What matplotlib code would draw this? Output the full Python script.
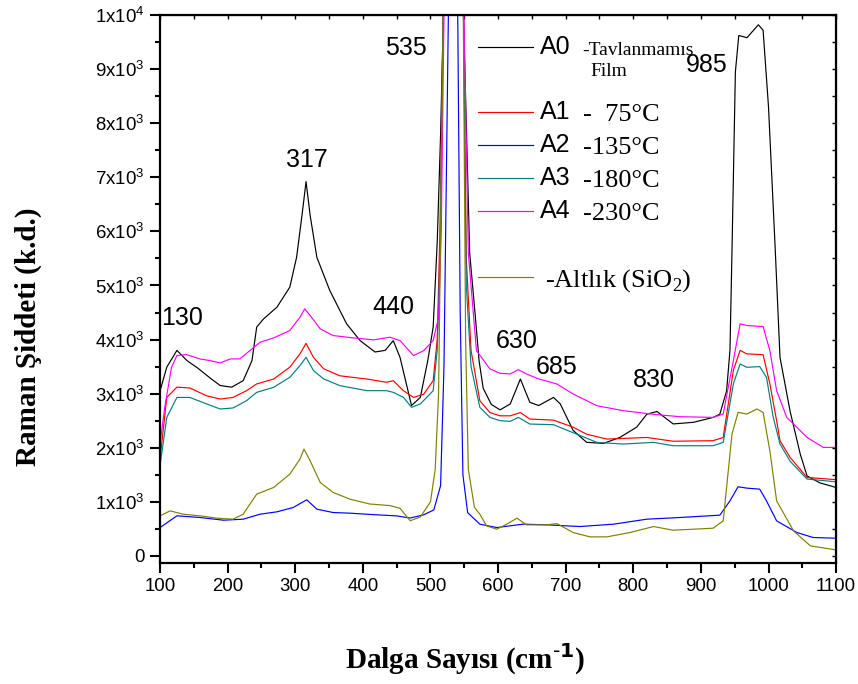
import matplotlib

matplotlib.use("Agg")
import matplotlib.pyplot as plt
from matplotlib.lines import Line2D
from matplotlib.ticker import FixedLocator, MultipleLocator

SANS = "Liberation Sans"
SERIF = "Liberation Serif"

# A0 - unannealed film
wn_a0 = [100, 110, 125, 140, 155, 175, 189, 206, 223, 236, 243, 253, 273, 292, 302, 310, 316, 322, 332,
         351, 376, 396, 418, 433, 445, 455, 472, 485, 496, 504, 510, 515, 520, 535, 549, 558, 566, 572,
         578, 590, 603, 618, 633, 647, 660, 682, 692, 711, 731, 756, 780, 805, 820, 835, 859, 889, 918,
         928, 938, 943, 946, 951, 956, 963, 968, 985, 992, 1000, 1010, 1017, 1032, 1047, 1057, 1076, 1100]
int_a0 = [3050, 3490, 3800, 3610, 3480, 3280, 3150, 3120, 3240, 3610, 4230, 4380, 4600, 4970, 5520, 6300,
          6920, 6300, 5520, 4910, 4290, 3980, 3770, 3800, 3980, 3670, 2780, 2930, 3610, 4230, 5800, 7800,
          10500, 20000, 9900, 5600, 4480, 3600, 3100, 2800, 2700, 2810, 3270, 2840, 2780, 2930, 2810, 2320,
          2100, 2080, 2190, 2380, 2620, 2670, 2440, 2470, 2560, 2620, 3050, 3800, 5650, 8950, 9620, 9600,
          9580, 9820, 9720, 8300, 5650, 3670, 2670, 1880, 1480, 1350, 1265]

# A1 - 75 C
wn_a1 = [100, 110, 125, 144, 169, 189, 208, 228, 243, 268, 292, 307, 316, 327, 342, 366, 406, 435, 445,
         460, 475, 490, 504, 510, 514, 520, 535, 548, 553, 560, 573, 588, 603, 618, 633, 647, 682, 711,
         731, 761, 820, 859, 918, 933, 948, 958, 968, 992, 1002, 1012, 1017, 1032, 1057, 1100]
int_a1 = [1790, 2930, 3120, 3105, 2960, 2900, 2930, 3055, 3180, 3270, 3490, 3735, 3930, 3670, 3460, 3330,
          3270, 3210, 3240, 3055, 2930, 2990, 3240, 4000, 6000, 11000, 20000, 11000, 5500, 3800, 2870, 2650,
          2590, 2590, 2650, 2530, 2510, 2380, 2250, 2160, 2190, 2120, 2130, 2190, 3430, 3800, 3735, 3720,
          3180, 2500, 2130, 1820, 1450, 1410]

# A2 - 135 C
wn_a2 = [100, 125, 159, 194, 223, 248, 273, 297, 317, 332, 356, 381, 420, 450, 470, 490, 505, 515, 520,
         527, 535, 540, 544, 548, 555, 573, 598, 637, 672, 721, 771, 820, 869, 928, 943, 955, 968, 987,
         997, 1012, 1042, 1066, 1100]
int_a2 = [524, 741, 710, 660, 679, 771, 815, 895, 1037, 864, 802, 790, 760, 740, 700, 760, 850, 1300, 3500,
          10500, 16000, 10500, 4500, 1500, 800, 587, 524, 587, 574, 543, 587, 679, 710, 753, 1018, 1278,
          1253, 1234, 1018, 648, 432, 340, 327]

# A3 - 180 C
wn_a3 = [100, 110, 125, 144, 169, 189, 208, 228, 243, 268, 292, 307, 316, 327, 342, 366, 406, 435, 445,
         460, 472, 485, 504, 510, 514, 520, 535, 548, 553, 560, 573, 588, 603, 618, 630, 647, 682, 716,
         746, 785, 830, 859, 918, 933, 948, 958, 968, 987, 997, 1007, 1017, 1032, 1057, 1100]
int_a3 = [1670, 2560, 2930, 2930, 2810, 2716, 2735, 2870, 3024, 3117, 3302, 3518, 3672, 3426, 3272, 3148,
          3055, 3055, 3024, 2932, 2747, 2809, 3055, 3800, 5500, 11000, 20000, 11000, 5000, 3500, 2747, 2561,
          2500, 2488, 2561, 2438, 2426, 2253, 2099, 2068, 2099, 2037, 2037, 2099, 3179, 3549, 3487, 3500,
          3302, 2561, 2068, 1750, 1420, 1370]

# A4 - 230 C
wn_a4 = [100, 107, 117, 125, 139, 159, 174, 189, 204, 218, 233, 248, 268, 292, 307, 314, 322, 337, 356,
         386, 416, 440, 455, 475, 490, 504, 512, 516, 521, 535, 548, 556, 568, 588, 603, 618, 630, 642,
         660, 687, 711, 746, 785, 835, 869, 918, 933, 948, 958, 968, 992, 1002, 1012, 1027, 1057, 1081, 1100]
int_a4 = [2068, 2747, 3487, 3704, 3722, 3642, 3611, 3568, 3642, 3642, 3796, 3950, 4031, 4167, 4413, 4568,
          4444, 4198, 4074, 4031, 3994, 4043, 3981, 3704, 3796, 3981, 4413, 6000, 11000, 20000, 11000, 5600,
          3796, 3457, 3376, 3364, 3444, 3364, 3272, 3179, 2994, 2778, 2685, 2611, 2574, 2561, 2623, 3611,
          4290, 4259, 4240, 3796, 3055, 2561, 2191, 2006, 2006]

# substrate (SiO2)
wn_sub = [100, 115, 134, 159, 184, 208, 223, 233, 243, 268, 292, 307, 313, 322, 337, 356, 381, 410, 440,
          455, 470, 485, 500, 507, 512, 520, 535, 548, 552, 556, 565, 573, 583, 598, 613, 628, 642, 672,
          687, 711, 736, 761, 795, 830, 859, 918, 933, 946, 955, 968, 983, 992, 1002, 1012, 1037, 1062, 1100]
int_sub = [741, 833, 771, 741, 698, 679, 771, 957, 1142, 1265, 1512, 1790, 1975, 1759, 1358, 1173, 1049,
           960, 930, 880, 650, 720, 1000, 1600, 3000, 11000, 20000, 11000, 4000, 1600, 900, 771, 555, 494,
           587, 698, 574, 574, 598, 432, 352, 352, 432, 543, 475, 512, 648, 2253, 2654, 2623, 2716, 2654,
           1944, 1018, 463, 185, 111]

series_names = ["A0", "A1", "A2", "A3", "A4", ""]
series_desc = ["-Tavlanmamıs", "-  75°C", "-135°C", "-180°C", "-230°C", "-Altlık (SiO$_{\\mathregular{2}}$)"]
series_colors = ["black", "#ff0000", "#0000ff", "#008080", "#ff00ff", "#808000"]

peak_labels = ["130", "317", "440", "535", "630", "685", "830", "985"]
peak_x = [133, 317, 445, 464, 628, 686, 831, 909]
peak_y = [4390, 7320, 4600, 9390, 3970, 3490, 3250, 9070]

ytick_vals = [0] + [k * 1000 for k in range(1, 11)]
ytick_text = ["0"] + [f"$\\mathregular{{{k}x10^{{3}}}}$" for k in range(1, 10)] + ["$\\mathregular{1x10^{4}}$"]

fig = plt.figure(figsize=(8.58, 6.84), dpi=100)
ax = fig.add_axes([0.1865, 0.177, 0.788, 0.801])

data = [(wn_a0, int_a0), (wn_a1, int_a1), (wn_a2, int_a2), (wn_a3, int_a3), (wn_a4, int_a4), (wn_sub, int_sub)]
for (wn, it), col in zip(data, series_colors):
    ax.plot(wn, it, color=col, lw=0.85)

ax.set_xlim(100, 1100)
ax.set_ylim(-130, 10000)
ax.xaxis.set_major_locator(MultipleLocator(100))
ax.xaxis.set_minor_locator(MultipleLocator(50))
ax.yaxis.set_major_locator(FixedLocator(ytick_vals))
ax.yaxis.set_minor_locator(MultipleLocator(500))
ax.set_yticklabels(ytick_text)
for spine in ax.spines.values():
    spine.set_linewidth(1.6)
ax.tick_params(which="major", direction="out", length=7.2, width=1.5, labelsize=13.4, pad=4)
ax.tick_params(which="minor", direction="out", length=3.6, width=1.5)
for lab in ax.get_xticklabels() + ax.get_yticklabels():
    lab.set_fontfamily(SANS)

top = ax.secondary_xaxis("top")
top.xaxis.set_major_locator(MultipleLocator(50))
top.tick_params(direction="in", length=3, width=1, labeltop=False)
right = ax.secondary_yaxis("right")
right.yaxis.set_major_locator(MultipleLocator(500))
right.tick_params(direction="in", length=3, width=1, labelright=False)

for lab, px, py in zip(peak_labels, peak_x, peak_y):
    ax.text(px, py, lab, ha="center", va="center", fontsize=18, family=SANS)

# legend, drawn by hand to keep the original layout
leg_y = [0.942, 0.823, 0.763, 0.703, 0.642, 0.522]
for name, desc, col, ly in zip(series_names, series_desc, series_colors, leg_y):
    ax.add_line(Line2D([0.470, 0.552], [ly, ly], color=col, lw=0.85, transform=ax.transAxes))
    if name:
        ax.text(0.562, ly, name, transform=ax.transAxes, ha="left", va="center", fontsize=18, family=SANS)
        size = 14 if name == "A0" else 19
        ax.text(0.625, ly - 0.006, desc, transform=ax.transAxes, ha="left", va="center",
                fontsize=size, family=SERIF)
    else:
        ax.text(0.570, ly - 0.006, desc, transform=ax.transAxes, ha="left", va="center",
                fontsize=19, family=SERIF)
ax.text(0.636, 0.897, "Film", transform=ax.transAxes, ha="left", va="center", fontsize=14, family=SERIF)

fig.text(0.542, 0.036, "Dalga Sayısı (cm$^{\\mathbf{\\text{-}1}}$)", ha="center", va="center",
         fontsize=21, family=SERIF, fontweight="bold")
fig.text(0.033, 0.507, "Raman Şiddeti (k.d.)", ha="center", va="center", rotation=90,
         fontsize=21, family=SERIF, fontweight="bold")

fig.savefig("out.png", dpi=100)
